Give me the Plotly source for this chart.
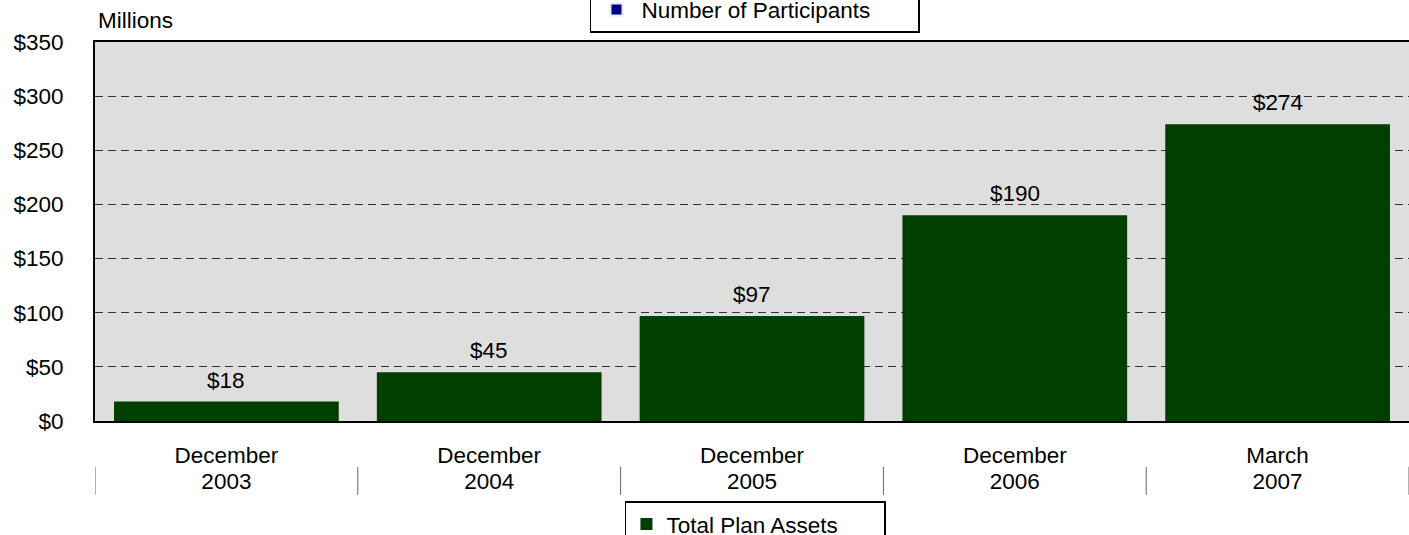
import plotly.graph_objects as go

months = ["December", "December", "December", "December", "March"]
years = ["2003", "2004", "2005", "2006", "2007"]
plan_assets = [18, 45, 97, 190, 274]
y_ticks = [0, 50, 100, 150, 200, 250, 300, 350]
y_tick_labels = ["$" + str(v) for v in y_ticks]

FONT = "Liberation Sans, Arial, sans-serif"
SIZE = 22.5
BAR_GREEN = "#003f00"
NAVY = "#000080"
positions = list(range(len(months)))

fig = go.Figure()

fig.add_trace(go.Bar(
    x=positions,
    y=plan_assets,
    name="Total Plan Assets",
    marker=dict(color=BAR_GREEN, line=dict(width=0)),
    width=0.855,
    legend="legend",
))

# legend-only entry for the participants series
fig.add_trace(go.Bar(
    x=[None], y=[None],
    name="Number of Participants",
    marker=dict(color=NAVY),
    legend="legend2",
))

# value labels above each bar
for i, v in zip(positions, plan_assets):
    fig.add_annotation(x=i, y=v, text="$" + str(v), showarrow=False,
                       yanchor="bottom", yshift=7,
                       font=dict(family=FONT, size=SIZE, color="black"))

# category separators below the axis
for i in range(len(months) + 1):
    fig.add_shape(type="line", xref="x", yref="paper",
                  x0=i - 0.5, x1=i - 0.5, y0=-0.121, y1=-0.195,
                  line=dict(color="#666666", width=1))

fig.add_annotation(xref="paper", yref="paper", x=0.001, y=1.0,
                   xanchor="left", yanchor="bottom", yshift=7, text="Millions",
                   showarrow=False, font=dict(family=FONT, size=SIZE, color="black"))

fig.update_layout(
    width=1409, height=535,
    margin=dict(l=95, r=0, t=42, b=114, autoexpand=False),
    paper_bgcolor="white",
    plot_bgcolor="#dedede",
    font=dict(family=FONT, size=SIZE, color="black"),
    bargap=0.145,
    showlegend=True,
    legend=dict(x=0.4033, y=-0.212, xanchor="left", yanchor="top",
                bgcolor="white", bordercolor="black", borderwidth=1.5,
                font=dict(family=FONT, size=SIZE, color="black"),
                orientation="h", entrywidth=213, itemwidth=30,
                itemsizing="constant"),
    legend2=dict(x=0.3767, y=1.024, xanchor="left", yanchor="bottom",
                 bgcolor="white", bordercolor="black", borderwidth=1.5,
                 font=dict(family=FONT, size=SIZE, color="black"),
                 orientation="h", entrywidth=272, itemwidth=40,
                 itemsizing="constant"),
)

axis_range = [-0.5, len(months) - 0.5]

# month row
fig.update_layout(xaxis=dict(
    tickmode="array", tickvals=positions, ticktext=months,
    range=axis_range,
    showline=True, linecolor="black", linewidth=2, mirror=True,
    showgrid=False, ticks="", ticklabelstandoff=13,
    tickfont=dict(family=FONT, size=SIZE, color="black"),
))

# year row, sharing the category positions
fig.update_layout(xaxis2=dict(
    tickmode="array", tickvals=positions, ticktext=years,
    range=axis_range, overlaying="x", anchor="y", side="bottom",
    showline=False, showgrid=False, zeroline=False, ticks="",
    ticklabelstandoff=44,
    tickfont=dict(family=FONT, size=SIZE, color="black"),
))
fig.add_trace(go.Scatter(x=[None], y=[None], xaxis="x2", showlegend=False,
                         hoverinfo="skip"))

fig.update_yaxes(
    range=[0, 350], tickmode="array", tickvals=y_ticks, ticktext=y_tick_labels,
    showline=True, linecolor="black", linewidth=2,
    showgrid=True, gridcolor="#333333", gridwidth=1, griddash="8px,5px",
    zeroline=False, ticks="", ticklabelstandoff=25,
    tickfont=dict(family=FONT, size=SIZE, color="black"),
)

fig.write_html("out.html")
